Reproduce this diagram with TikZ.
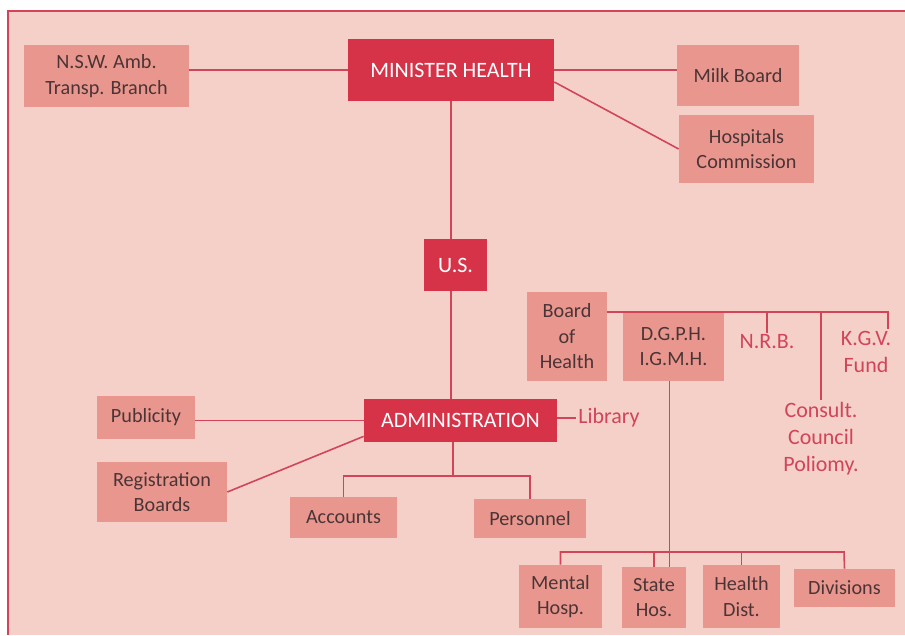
\documentclass[tikz,border=0pt]{standalone}
\usepackage{fontspec}
\setmainfont{Carlito}
\usetikzlibrary{positioning}

\definecolor{pagepink}{HTML}{F5D0C9}
\definecolor{boxpink}{HTML}{E9978E}
\definecolor{headred}{HTML}{D73348}
\definecolor{linered}{HTML}{D24458}
\definecolor{boxtext}{HTML}{4A3436}

\begin{document}
\begin{tikzpicture}[x=0.02cm, y=-0.02cm,
  orgbox/.style={rectangle, fill=boxpink, text=boxtext, align=center, inner sep=0pt,
    font=\fontsize{11.5}{14.5}\selectfont},
  headbox/.style={rectangle, fill=headred, text=white, align=center, inner sep=0pt,
    font=\fontsize{12.5}{15}\selectfont},
  redlabel/.style={text=linered, align=center, inner sep=1pt,
    font=\fontsize{12.5}{15.4}\selectfont},
  link/.style={draw=linered, line width=0.9pt}]

  % page and frame
  \useasboundingbox (0,0) rectangle (905,635);
  \fill[white] (0,0) rectangle (905,635);
  \fill[pagepink] (8,11) rectangle (905,635);
  \draw[linered, line width=1.3pt] (905,11) -- (8,11) -- (8,635);

  % top level
  \node[headbox, minimum width=4.12cm, minimum height=1.24cm] (minister) at (451,70) {MINISTER HEALTH};
  \node[orgbox, minimum width=3.3cm, minimum height=1.24cm] (nsw) at (106.5,76) {N.S.W. Amb.\\Transp. Branch};
  \node[orgbox, minimum width=2.44cm, minimum height=1.22cm] (milk) at (738,75.5) {Milk Board};
  \node[orgbox, minimum width=2.7cm, minimum height=1.36cm] (hosp) at (746.5,149) {Hospitals\\Commission};
  \node[headbox, minimum width=1.26cm, minimum height=1.04cm] (us) at (455.5,265) {U.S.};

  % boards on the right
  \node[orgbox, minimum width=1.6cm, minimum height=1.78cm] (board) at (567,336.5) {Board\\of\\Health};
  \node[orgbox, minimum width=2.02cm, minimum height=1.38cm] (dgph) at (673.5,346.5) {D.G.P.H.\\I.G.M.H.};
  \node[redlabel] (nrb) at (767,342) {N.R.B.};
  \node[redlabel] (kgv) at (866,352) {K.G.V.\\Fund};
  \node[redlabel] (consult) at (821,439) {Consult.\\Council\\Poliomy.};
  \coordinate (bbr) at (888,312);

  % administration
  \node[headbox, minimum width=3.86cm, minimum height=0.86cm] (admin) at (460.5,420.5) {ADMINISTRATION};
  \node[redlabel] (library) at (609,418) {Library};
  \node[orgbox, minimum width=1.96cm, minimum height=0.86cm] (publicity) at (146,417.5) {Publicity};
  \node[orgbox, minimum width=2.6cm, minimum height=1.2cm] (regb) at (162,492) {Registration\\Boards};
  \node[orgbox, minimum width=2.14cm, minimum height=0.82cm] (accounts) at (343.5,517.5) {Accounts};
  \node[orgbox, minimum width=2.24cm, minimum height=0.78cm] (personnel) at (530,518.5) {Personnel};
  \coordinate (abr) at (453,476);

  % hospitals row
  \node[orgbox, minimum width=1.66cm, minimum height=1.26cm] (mental) at (560.5,596.5) {Mental\\Hosp.};
  \node[orgbox, minimum width=1.28cm, minimum height=1.22cm] (state) at (654,597.5) {State\\Hos.};
  \node[orgbox, minimum width=1.54cm, minimum height=1.26cm] (health) at (741.5,596.5) {Health\\Dist.};
  \node[orgbox, minimum width=2.02cm, minimum height=0.76cm] (divisions) at (844.5,588) {Divisions};
  \coordinate (lbr) at (844,552);

  % connectors
  \draw[link] (minister.west) -- (minister.west -| nsw.east);
  \draw[link] (minister.east) -- (minister.east -| milk.west);
  \draw[link] ([yshift=-0.24cm]minister.east) -- (hosp.west);
  \draw[link] (minister.south) -- (minister.south |- us.north);
  \draw[link] (us.south -| minister.south) -- (minister.south |- admin.north);
  \draw[link] (admin.west) -- (admin.west -| publicity.east);
  \draw[link] ([yshift=0.12cm]admin.south west) -- (regb.east);
  \draw[link] (library.west -| admin.east) -- (library.west);
  \draw[link] (admin.south -| abr) -- (abr);
  \draw[link] (accounts.north) |- (abr -| personnel.north) -- (personnel.north);
  \draw[link] (bbr -| board.east) -- (bbr) -- (bbr |- kgv.north);
  \draw[link] (nrb.north |- bbr) -- (nrb.north);
  \draw[link] (consult.north |- bbr) -- (consult.north);
  \draw[link] ([xshift=-0.08cm]dgph.south) -- ([xshift=-0.08cm]dgph.south |- state.north);
  \draw[link] (mental.north) |- (lbr) -- (divisions.north);
  \draw[link] (state.north |- lbr) -- (state.north);
  \draw[link] (health.north |- lbr) -- (health.north);
\end{tikzpicture}
\end{document}
